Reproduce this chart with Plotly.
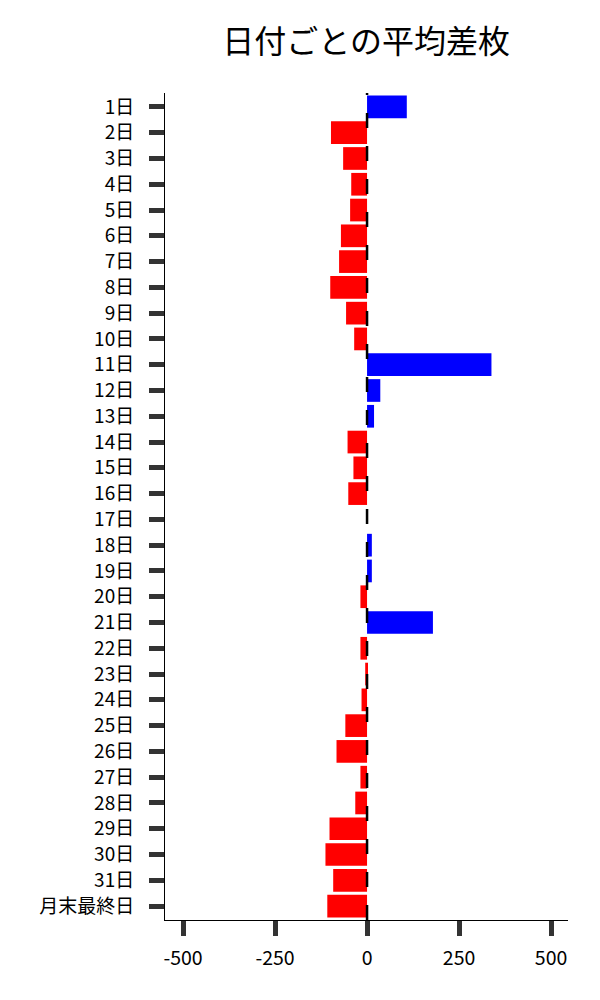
import plotly.graph_objects as go

days = [f"{i}日" for i in range(1, 32)] + ["月末最終日"]
values = [108, -98, -65, -43, -46, -71, -76, -100, -57, -35,
          338, 36, 19, -53, -37, -51, 0, 13, 13, -18,
          179, -18, -5, -15, -59, -83, -18, -32, -102, -113,
          -92, -108]
colors = ["blue" if v > 0 else "red" for v in values]
x_ticks = [-500, -250, 0, 250, 500]
FONT = "Noto Sans CJK JP"

fig = go.Figure(go.Bar(
    x=values, y=days, orientation="h",
    marker=dict(color=colors, line=dict(width=0)),
    width=0.88,
))

fig.add_shape(type="line", x0=0, x1=0, xref="x", y0=0, y1=1, yref="paper",
              line=dict(color="black", width=2.5, dash="15px,18px"), layer="above")

fig.update_layout(
    width=600, height=1000,
    margin=dict(l=157, r=40, t=85, b=88),
    plot_bgcolor="white", paper_bgcolor="white",
    font=dict(family=FONT, size=19, color="black"),
    title=dict(text="日付ごとの平均差枚", x=0.597, xanchor="center", y=0.966, yanchor="middle",
               font=dict(family=FONT, size=32, color="black")),
    showlegend=False,
)
fig.update_xaxes(
    range=[-549, 546], tickvals=x_ticks, ticktext=[str(t) for t in x_ticks],
    showgrid=False, zeroline=False, showline=True, linecolor="black", linewidth=1,
    ticks="outside", ticklen=15, tickwidth=5, tickcolor="#333333",
    ticklabelstandoff=6,
    tickfont=dict(family=FONT, size=19.5, color="black"),
)
fig.update_yaxes(
    categoryorder="array", categoryarray=days,
    range=[31.54, -0.54],
    showgrid=False, zeroline=False, showline=True, linecolor="black", linewidth=1,
    ticks="outside", ticklen=15, tickwidth=5, tickcolor="#333333",
    ticklabelstandoff=11,
    tickfont=dict(family=FONT, size=19, color="black"),
)

fig.write_html("out.html")
